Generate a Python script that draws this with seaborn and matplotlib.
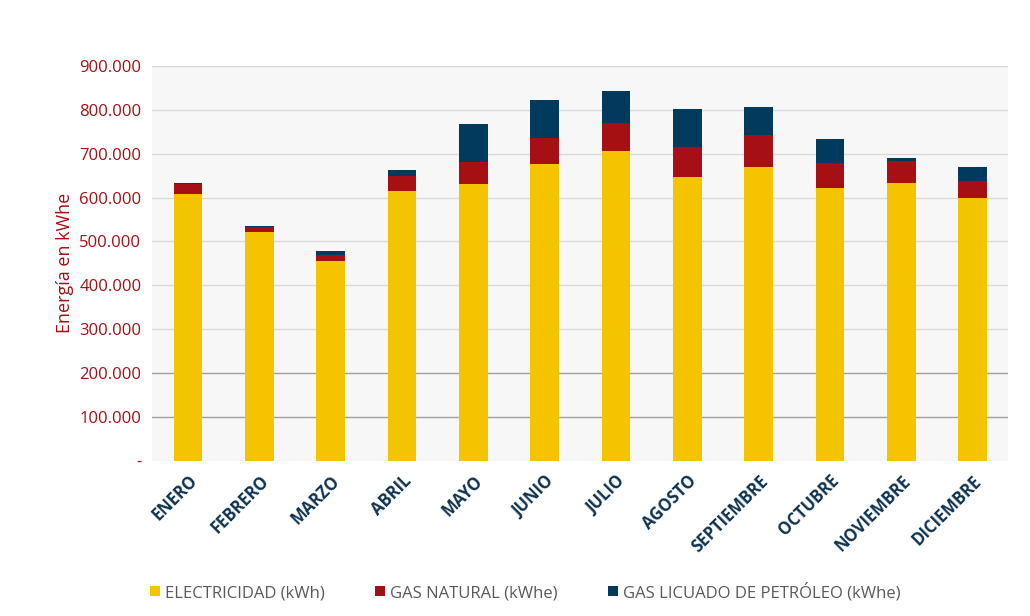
import matplotlib
matplotlib.use("Agg")
import matplotlib.pyplot as plt
import seaborn as sns
import pandas as pd
import numpy as np

months = ["ENERO","FEBRERO","MARZO","ABRIL","MAYO","JUNIO","JULIO","AGOSTO","SEPTIEMBRE","OCTUBRE","NOVIEMBRE","DICIEMBRE"]
electricidad = [608000,522000,456000,615000,631000,677000,706000,647000,670000,622000,633000,599000]
gas_natural = [23000,11000,13000,34000,50000,59000,64000,68000,73000,57000,50000,39000]
glp = [2000,1000,9000,14000,87000,86000,73000,87000,63000,54000,7000,32000]
yticks = [0,100000,200000,300000,400000,500000,600000,700000,800000,900000]
ytick_labels = ["-","100.000","200.000","300.000","400.000","500.000","600.000","700.000","800.000","900.000"]

sns.set_theme(style="white")
plt.rcParams['font.family'] = ['Open Sans', 'DejaVu Sans']

fig = plt.figure(figsize=(10.30,6.16), dpi=100)
ax = fig.add_axes([0.148, 0.252, 0.831, 0.641])
ax.set_facecolor("#F7F7F7")

df = pd.DataFrame({"mes":months,"e":electricidad,"g":gas_natural,"p":glp})
e = np.array(electricidad); g = np.array(gas_natural); p = np.array(glp)
df["eg"] = e + g
df["egp"] = e + g + p
w = 0.4
kw = dict(x="mes", width=w, ax=ax, saturation=1, zorder=3, linewidth=0, edgecolor="none")
sns.barplot(data=df, y="egp", color="#003A5C", label="GAS LICUADO DE PETRÓLEO (kWhe)", **kw)
sns.barplot(data=df, y="eg", color="#A60F14", label="GAS NATURAL (kWhe)", **kw)
sns.barplot(data=df, y="e", color="#F5C400", label="ELECTRICIDAD (kWh)", **kw)

ax.set_ylim(0, 900000)
ax.set_xlim(-0.5, 11.5)
ax.set_yticks(yticks)
ax.set_yticklabels(ytick_labels, color="#A60F14", fontsize=12)
for yv in yticks[1:]:
    ax.axhline(yv, color="#A0A0A0" if yv <= 200000 else "#D9D9D9", lw=1, zorder=1)
ax.set_xticks(range(12))
ax.set_xticklabels(months, rotation=45, ha="right", rotation_mode="anchor", color="#0E3350", fontsize=12, fontweight="bold")
ax.set_xlabel("")
ax.set_ylabel("Energía en kWhe", color="#A60F14", fontsize=13)
ax.tick_params(axis="both", length=0, pad=8)
for s in ax.spines.values():
    s.set_visible(False)

h, l = ax.get_legend_handles_labels()
if ax.get_legend() is not None:
    ax.get_legend().remove()
order = [2,1,0]
fig.legend([h[i] for i in order], [l[i] for i in order], loc="lower center", bbox_to_anchor=(0.51, 0.0), ncol=3, frameon=False,
           fontsize=12, handlelength=0.6, handleheight=0.6, handletextpad=0.3, columnspacing=3, labelcolor="#595959")
fig.savefig("out.png", dpi=100)
